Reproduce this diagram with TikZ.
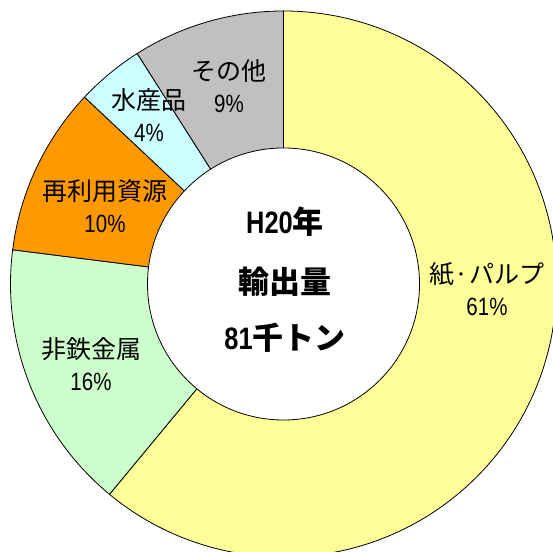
\documentclass[tikz,border=0pt]{standalone}
\usepackage{fontspec}
\setmainfont{Noto Sans CJK JP}
\newfontfamily\numfont[FakeStretch=0.82]{Liberation Sans}
\usetikzlibrary{positioning}
\definecolor{kamicol}{HTML}{FFFF99}
\definecolor{hitetsucol}{HTML}{CCFFCC}
\definecolor{saiyocol}{HTML}{FF9900}
\definecolor{suisancol}{HTML}{CCFFFF}
\definecolor{sonotacol}{HTML}{C0C0C0}

\begin{document}
\begin{tikzpicture}[
x=1pt, y=1pt,
slice/.style={
	draw,
	line width=0.8pt
},
lab/.style={
	font=\fontsize{25}{32}\selectfont,
	align=center,
	inner sep=0pt
},
mid/.style={
	font=\fontsize{31}{34}\selectfont\bfseries,
	inner sep=0pt
}
]
\useasboundingbox (0,0) rectangle (553,551);

\coordinate (c) at (283.5,267);

% ring slices, clockwise from the top
\foreach \a/\b/\col in {90/-129.6/kamicol, -129.6/-187.2/hitetsucol,
	-187.2/-223.2/saiyocol, -223.2/-237.6/suisancol, -237.6/-270/sonotacol}
	\draw[slice, fill=\col] (c) -- ++(\a:273) arc[start angle=\a, end angle=\b, radius=273] -- cycle;

\draw[slice, fill=white] (c) circle (136);

\node[lab] at (487,262) 
(kami) {紙·パルプ\\{\numfont 61\%}};
\node[lab] at (91,186.5) 
(hitetsu) {非鉄金属\\{\numfont 16\%}};
\node[lab] at (105,345) 
(saiyo) {再利用資源\\{\numfont 10\%}};
\node[lab] at (149,435.5) 
(suisan) {水産品\\{\numfont 4\%}};
\node[lab] at (229,464.5) 
(sonota) {その他\\{\numfont 9\%}};

\node[mid] at (285,329) (year) {{\numfont H20}年};
\node[mid] at (285,269) (title) {輸出量};
\node[mid] at (285,213) (total) {{\numfont 81}千トン};

\end{tikzpicture}
\end{document}
